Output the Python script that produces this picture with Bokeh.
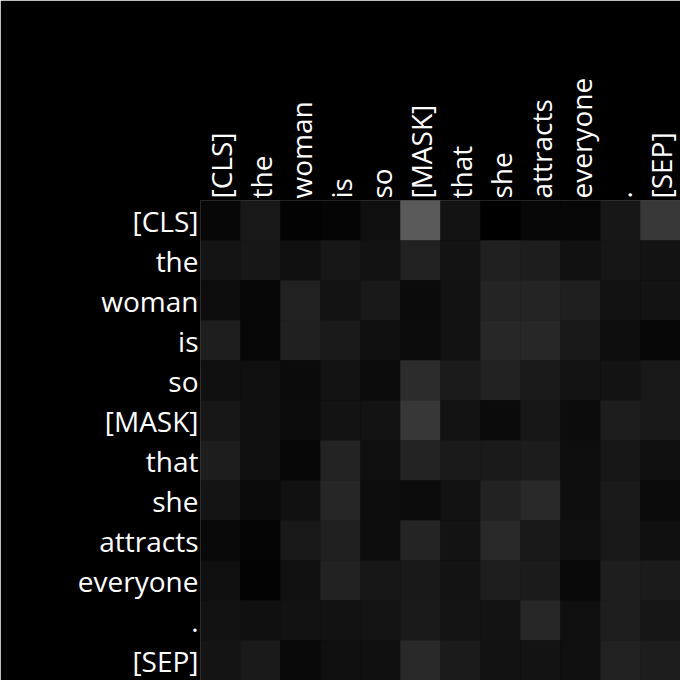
from bokeh.plotting import figure
from bokeh.models import ColumnDataSource, LinearColorMapper
from bokeh.embed import file_html
from bokeh.resources import INLINE

tokens = ["[CLS]", "the", "woman", "is", "so", "[MASK]", "that", "she",
          "attracts", "everyone", ".", "[SEP]"]

# attention weights: rows = query token, columns = key token
attention = [
    [.031, .094, .012, .020, .059, .353, .075, .000, .031, .027, .090, .220],
    [.082, .090, .059, .090, .071, .129, .075, .125, .114, .067, .086, .075],
    [.051, .024, .129, .075, .098, .043, .071, .141, .141, .122, .071, .078],
    [.118, .024, .125, .102, .063, .047, .071, .153, .153, .094, .055, .027],
    [.063, .059, .043, .078, .047, .173, .106, .133, .102, .075, .075, .094],
    [.090, .063, .047, .075, .078, .216, .078, .043, .090, .047, .114, .094],
    [.114, .063, .031, .137, .063, .137, .102, .102, .110, .055, .090, .063],
    [.082, .043, .067, .149, .051, .047, .071, .133, .161, .055, .102, .043],
    [.039, .020, .094, .125, .051, .141, .075, .161, .094, .063, .094, .063],
    [.059, .012, .067, .133, .090, .098, .078, .118, .106, .039, .118, .106],
    [.071, .063, .071, .071, .082, .102, .082, .078, .153, .059, .118, .086],
    [.082, .102, .039, .059, .063, .161, .106, .071, .078, .059, .129, .114],
]

xs, ys, vs = [], [], []
for i, row_tok in enumerate(tokens):
    for j, col_tok in enumerate(tokens):
        xs.append(col_tok)
        ys.append(row_tok)
        vs.append(attention[i][j])
source = ColumnDataSource(dict(x=xs, y=ys, v=vs))

gray = ["#%02x%02x%02x" % (k, k, k) for k in range(256)]
mapper = LinearColorMapper(palette=gray, low=0, high=1)

p = figure(width=680, height=680, x_range=tokens, y_range=list(reversed(tokens)),
           x_axis_location="above", output_backend="svg", toolbar_location=None,
           min_border_left=200, min_border_top=200, min_border_right=0, min_border_bottom=0)
p.rect(x="x", y="y", width=1, height=1, source=source,
       fill_color={"field": "v", "transform": mapper},
       line_color={"field": "v", "transform": mapper}, line_width=0.5)

p.background_fill_color = "black"
p.border_fill_color = "black"
p.outline_line_color = None
p.grid.visible = False
p.xaxis.major_label_orientation = "vertical"
for ax in (p.xaxis, p.yaxis):
    ax.axis_line_color = None
    ax.major_tick_line_color = None
    ax.minor_tick_line_color = None
    ax.major_tick_in = 0
    ax.major_tick_out = 0
    ax.major_label_standoff = 2
    ax.major_label_text_color = "white"
    ax.major_label_text_font = "Open Sans"
    ax.major_label_text_font_size = "28px"
p.x_range.range_padding = 0
p.y_range.range_padding = 0

open("out.html", "w").write(file_html(p, INLINE))
